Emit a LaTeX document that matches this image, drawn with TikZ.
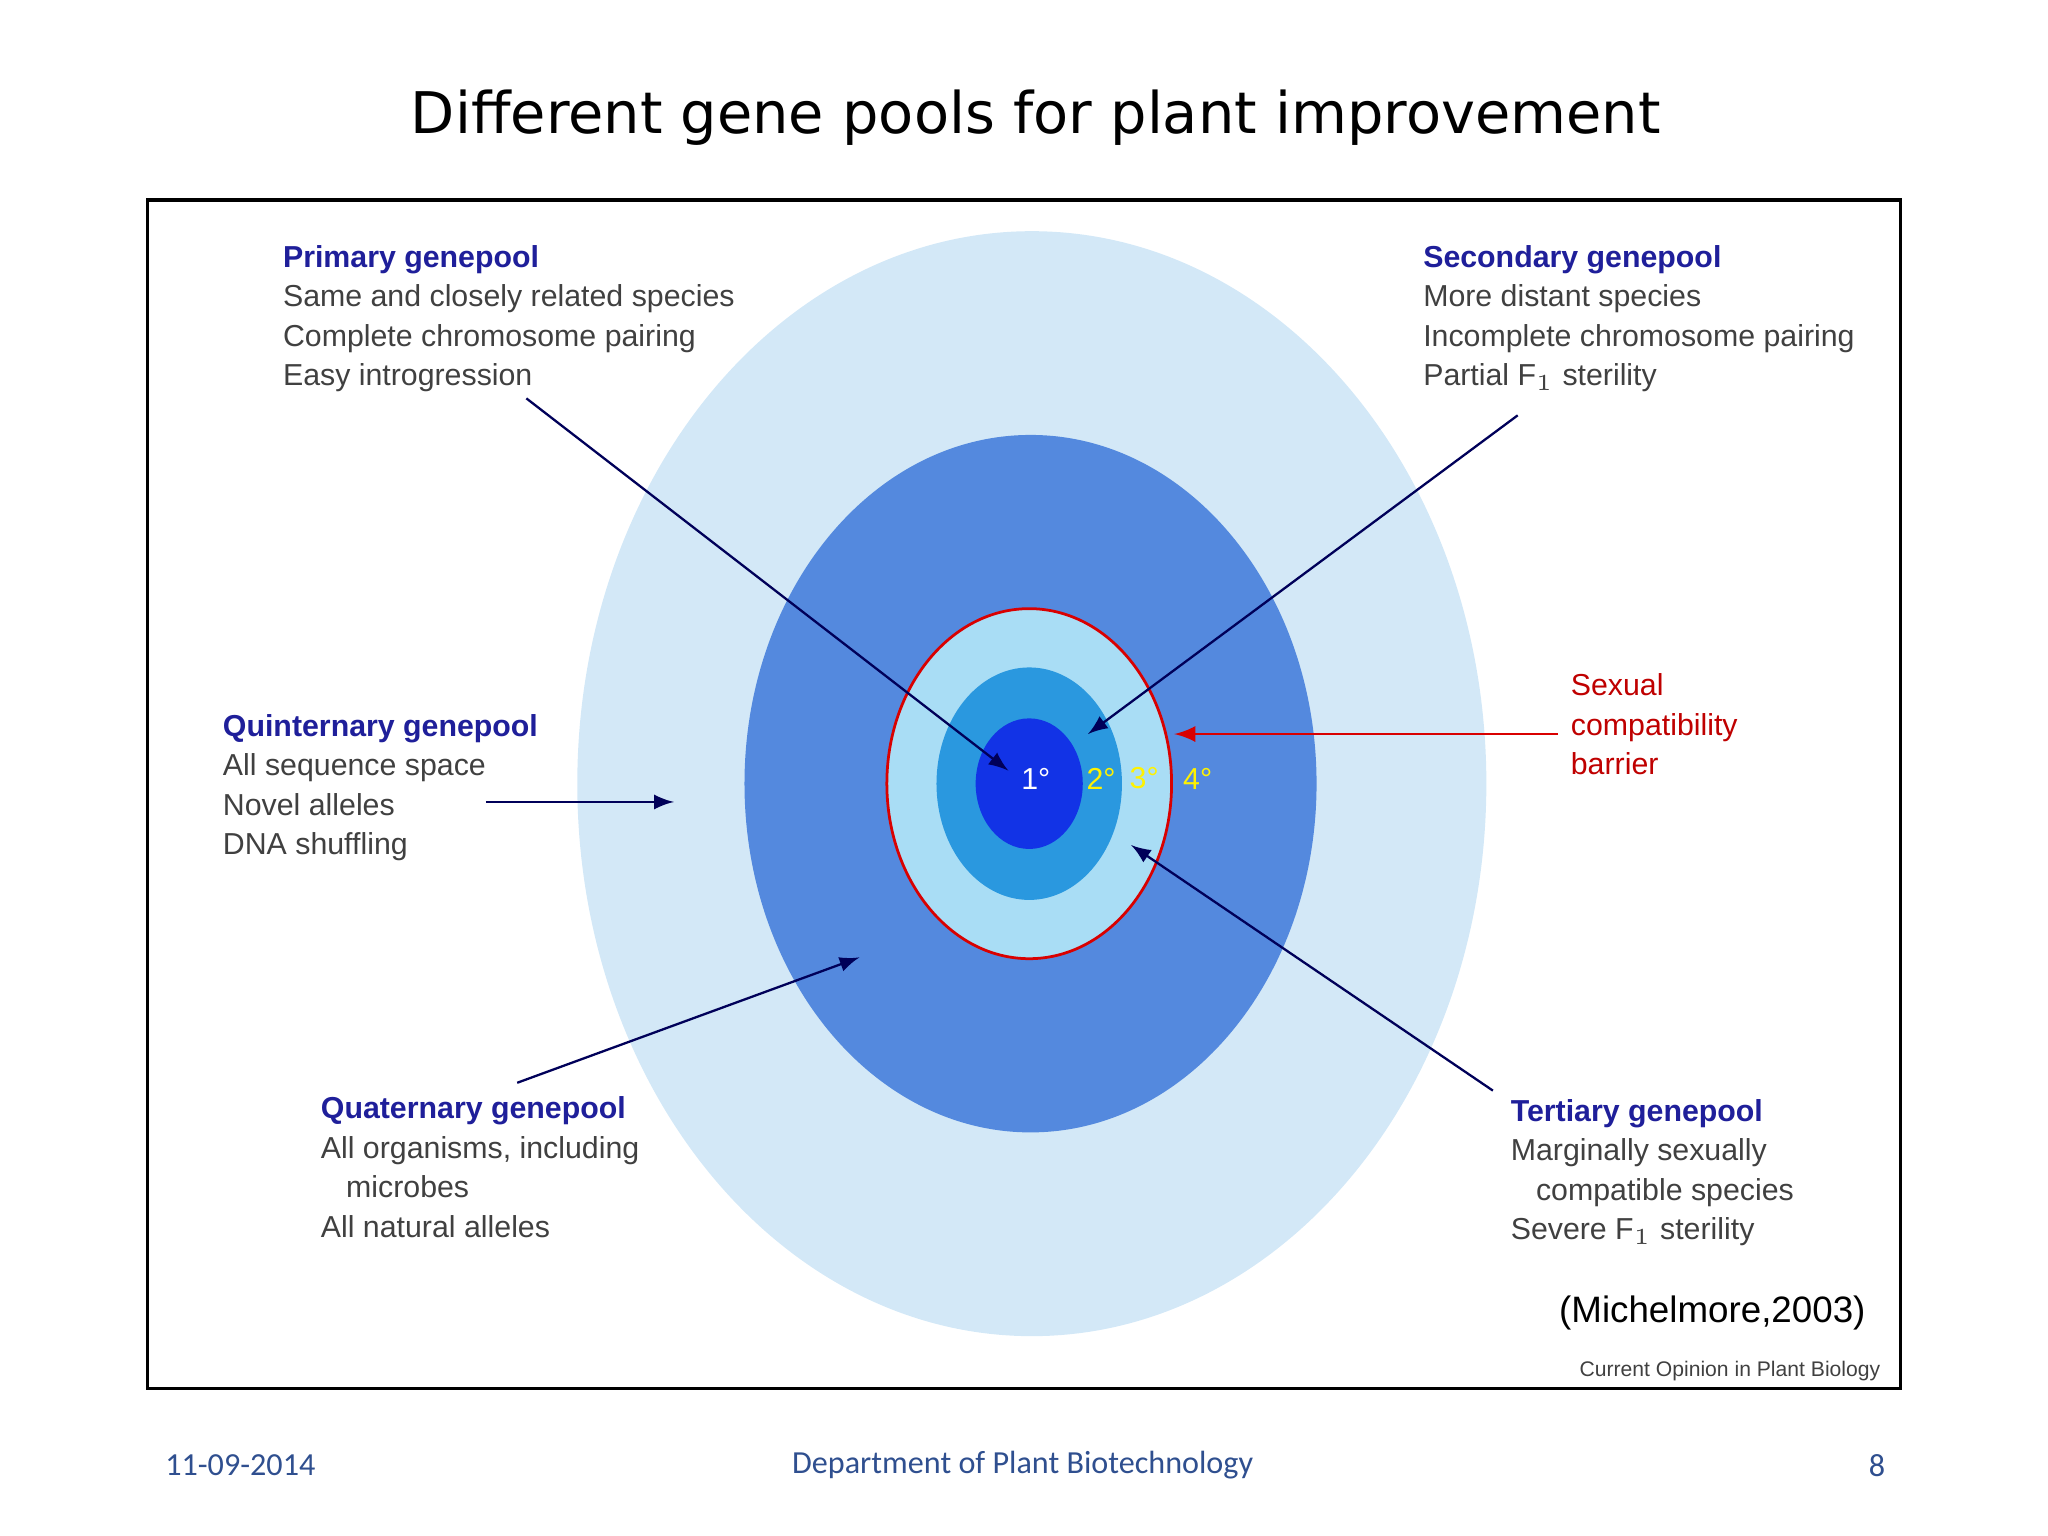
\documentclass[tikz,border=0pt]{standalone}
\usepackage{fontspec}
\setmainfont{Liberation Sans}
\newfontfamily\foot{Carlito}
\newfontfamily\ttl{DejaVu Sans}
\begin{document}
\begin{tikzpicture}[x=0.01cm,y=-0.01cm,
  txt/.style={anchor=north west,inner sep=0,align=left,text=black!75,font=\fontsize{6.6}{8.6}\selectfont},
  arr/.style={-latex,draw=blue!35!black,line width=0.5pt},
  deg/.style={font=\fontsize{6.6}{8}\selectfont,inner sep=0}]
\useasboundingbox (0,0) rectangle (1568,1176);
\definecolor{c1}{HTML}{D3E8F7}
\definecolor{c2}{HTML}{5489DE}
\definecolor{c3}{HTML}{A9DDF5}
\definecolor{c4}{HTML}{2A98DF}
\definecolor{c5}{HTML}{1233E6}
\definecolor{hd}{HTML}{1F1F9A}
\definecolor{ft}{HTML}{2F4F8F}
\node[font=\ttl\fontsize{12.5}{14}\selectfont] (title) at (793,90) {Different gene pools for plant improvement};
\draw[line width=0.8pt] (113,153) rectangle (1455,1063);
\fill[c1] (790,600) ellipse [x radius=348, y radius=423];
\fill[c2] (789,600) ellipse [x radius=219, y radius=267];
\filldraw[fill=c3,draw=red!85!black,line width=0.6pt] (788,600) ellipse [x radius=109, y radius=134];
\fill[c4] (788,600) ellipse [x radius=71, y radius=89];
\fill[c5] (788,600) ellipse [x radius=41, y radius=50];
\node[deg,text=white] (d1) at (793,596) {1°};
\node[deg,text=yellow] (d2) at (843,596) {2°};
\node[deg,text=yellow] (d3) at (876,596) {3°};
\node[deg,text=yellow] (d4) at (917,596) {4°};
\node[txt] (prim) at (216,187) {\textbf{\color{hd}Primary genepool}\\Same and closely related species\\Complete chromosome pairing\\Easy introgression};
\node[txt] (sec) at (1089,187) {\textbf{\color{hd}Secondary genepool}\\More distant species\\Incomplete chromosome pairing\\Partial F$_1$ sterility};
\node[txt] (quin) at (170,546) {\textbf{\color{hd}Quinternary genepool}\\All sequence space\\Novel alleles\\DNA shuffling};
\node[txt] (quat) at (245,839) {\textbf{\color{hd}Quaternary genepool}\\All organisms, including\\\ \ \ microbes\\All natural alleles};
\node[txt] (ter) at (1156,841) {\textbf{\color{hd}Tertiary genepool}\\Marginally sexually\\\ \ \ compatible species\\Severe F$_1$ sterility};
\node[txt,text=red!75!black] (sex) at (1202,515) {Sexual\\compatibility\\barrier};
\coordinate (pa) at (403,305); \coordinate (pb) at (772,590);
\coordinate (sa) at (1162,318); \coordinate (sb) at (833,562);
\coordinate (qa) at (372,614); \coordinate (qb) at (516,614);
\coordinate (ua) at (396,829); \coordinate (ub) at (658,733);
\coordinate (ta) at (1143,835); \coordinate (tb) at (866,647);
\coordinate (ra) at (1193,562); \coordinate (rb) at (899,562);
\draw[arr] (pa) -- (pb);
\draw[arr] (sa) -- (sb);
\draw[arr] (qa) -- (qb);
\draw[arr] (ua) -- (ub);
\draw[arr] (ta) -- (tb);
\draw[-latex,draw=red!85!black,line width=0.6pt] (ra) -- (rb);
\node[font=\fontsize{8}{9}\selectfont] (mich) at (1311,1005) {(Michelmore,2003)};
\node[font=\fontsize{4.6}{5}\selectfont,text=black!75,anchor=east] (cop) at (1452,1050) {Current Opinion in Plant Biology};
\node[font=\foot\fontsize{7}{8}\selectfont,text=ft] (date) at (184,1122) {11-09-2014};
\node[font=\foot\fontsize{7}{8}\selectfont,text=ft] (dept) at (783,1122) {Department of Plant Biotechnology};
\node[font=\foot\fontsize{7}{8}\selectfont,text=ft] (pg) at (1437,1122) {8};
\end{tikzpicture}
\end{document}
